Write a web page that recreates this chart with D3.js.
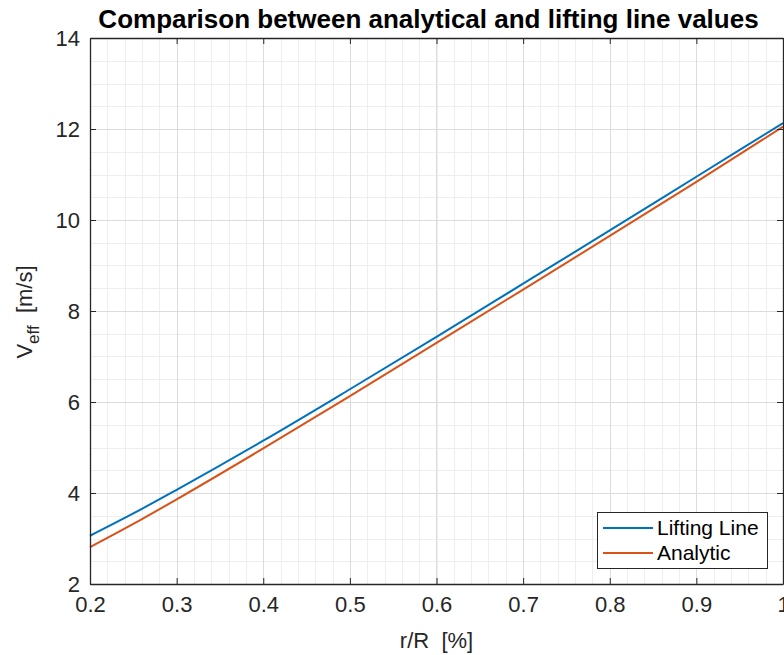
<!DOCTYPE html>
<html>
<head>
<meta charset="utf-8">
<script src="https://cdn.jsdelivr.net/npm/d3@7"></script>
<style>
  body { margin: 0; background: #fff; }
  svg { font-family: "Liberation Sans", Arial, Helvetica, sans-serif; }
</style>
</head>
<body>
<svg width="784" height="655"></svg>
<script>
// data
var rR = [0.2, 0.25, 0.3, 0.4, 0.5, 0.6, 0.7, 0.8, 0.9, 1.0];
var liftingLine = [3.06, 3.55, 4.07, 5.15, 6.28, 7.43, 8.60, 9.77, 10.95, 12.13];
var analytic    = [2.81, 3.32, 3.86, 4.98, 6.13, 7.30, 8.47, 9.65, 10.84, 12.05];
var seriesNames = ["Lifting Line", "Analytic"];
var seriesColors = ["#0072BD", "#D95319"];
var xTicks = [0.2, 0.3, 0.4, 0.5, 0.6, 0.7, 0.8, 0.9, 1];
var yTicks = [2, 4, 6, 8, 10, 12, 14];

var svg = d3.select("svg"),
    margin = {top: 38, right: 1, bottom: 71, left: 90},
    width = +svg.attr("width") - margin.left - margin.right,
    height = +svg.attr("height") - margin.top - margin.bottom,
    g = svg.append("g").attr("transform", "translate(" + margin.left + "," + margin.top + ")");

var x = d3.scaleLinear().domain([0.2, 1]).range([0, width]);
var y = d3.scaleLinear().domain([2, 14]).range([height, 0]);

// minor grid
g.append("g").selectAll("line")
    .data(d3.range(0.2, 1.0001, 0.02))
    .enter().append("line")
      .attr("x1", function(d) { return Math.round(x(d)) + 0.5; })
      .attr("x2", function(d) { return Math.round(x(d)) + 0.5; })
      .attr("y1", 0).attr("y2", height)
      .attr("stroke", "#eeeeee");
g.append("g").selectAll("line")
    .data(d3.range(2, 14.001, 0.5))
    .enter().append("line")
      .attr("y1", function(d) { return Math.round(y(d)) + 0.5; })
      .attr("y2", function(d) { return Math.round(y(d)) + 0.5; })
      .attr("x1", 0).attr("x2", width)
      .attr("stroke", "#eeeeee");

// major grid
g.append("g").selectAll("line")
    .data(xTicks)
    .enter().append("line")
      .attr("x1", function(d) { return Math.round(x(d)) + 0.5; })
      .attr("x2", function(d) { return Math.round(x(d)) + 0.5; })
      .attr("y1", 0).attr("y2", height)
      .attr("stroke", "#dcdcdc");
g.append("g").selectAll("line")
    .data(yTicks)
    .enter().append("line")
      .attr("y1", function(d) { return Math.round(y(d)) + 0.5; })
      .attr("y2", function(d) { return Math.round(y(d)) + 0.5; })
      .attr("x1", 0).attr("x2", width)
      .attr("stroke", "#dcdcdc");

// lines
var line = d3.line()
    .x(function(d) { return x(d[0]); })
    .y(function(d) { return y(d[1]); })
    .curve(d3.curveMonotoneX);

[liftingLine, analytic].forEach(function(s, i) {
  g.append("path")
      .datum(rR.map(function(r, j) { return [r, s[j]]; }))
      .attr("fill", "none")
      .attr("stroke", seriesColors[i])
      .attr("stroke-width", 2)
      .attr("d", line);
});

// axes, ticks inward
var axisColor = "#262626";
var axBottom = g.append("g")
    .attr("transform", "translate(0," + height + ")")
    .call(d3.axisBottom(x).tickValues(xTicks).tickSizeInner(-6).tickSizeOuter(0).tickPadding(12)
      .tickFormat(function(d) { return d === 1 ? "1" : d3.format(".1f")(d); }));
var axLeft = g.append("g")
    .call(d3.axisLeft(y).tickValues(yTicks).tickSizeInner(-6).tickSizeOuter(0).tickPadding(10));
var axTop = g.append("g")
    .call(d3.axisTop(x).tickValues(xTicks).tickSizeInner(-6).tickSizeOuter(0).tickFormat(""));
var axRight = g.append("g")
    .attr("transform", "translate(" + width + ",0)")
    .call(d3.axisRight(y).tickValues(yTicks).tickSizeInner(-6).tickSizeOuter(0).tickFormat(""));

[axBottom, axLeft, axTop, axRight].forEach(function(a) {
  a.attr("font-family", null).attr("font-size", 22);
  a.selectAll("path, line").attr("stroke", axisColor);
  a.select("path").attr("stroke-width", 1.3);
  a.selectAll("text").attr("fill", axisColor);
});

// title and labels
svg.append("text")
    .attr("x", margin.left + width / 2 - 8)
    .attr("y", 28)
    .attr("text-anchor", "middle")
    .attr("font-size", 26)
    .attr("font-weight", "bold")
    .attr("fill", "#000")
    .text("Comparison between analytical and lifting line values");

svg.append("text")
    .attr("x", margin.left + width / 2)
    .attr("y", 648)
    .attr("text-anchor", "middle")
    .attr("font-size", 22)
    .attr("fill", axisColor)
    .text("r/R\u00a0\u00a0[%]");

var yl = svg.append("text")
    .attr("transform", "translate(32,312) rotate(-90)")
    .attr("text-anchor", "middle")
    .attr("font-size", 22)
    .attr("fill", axisColor);
yl.append("tspan").text("V");
yl.append("tspan").attr("font-size", 17).attr("dy", 7).text("eff");
yl.append("tspan").attr("dy", -7).text("\u00a0\u00a0[m/s]");

// legend
var legend = svg.append("g").attr("transform", "translate(597,512)");
legend.append("rect")
    .attr("x", 0.5).attr("y", 0.5)
    .attr("width", 170).attr("height", 56)
    .attr("fill", "#fff")
    .attr("stroke", axisColor)
    .attr("stroke-width", 1);
var items = legend.selectAll("g.item")
    .data(seriesNames)
    .enter().append("g")
      .attr("class", "item")
      .attr("transform", function(d, i) { return "translate(0," + (16 + i * 25) + ")"; });
items.append("line")
    .attr("x1", 6).attr("x2", 56)
    .attr("stroke", function(d, i) { return seriesColors[i]; })
    .attr("stroke-width", 2);
items.append("text")
    .attr("x", 60)
    .attr("dy", "0.35em")
    .attr("font-size", 21)
    .attr("fill", "#000")
    .text(function(d) { return d; });
</script>
</body>
</html>
